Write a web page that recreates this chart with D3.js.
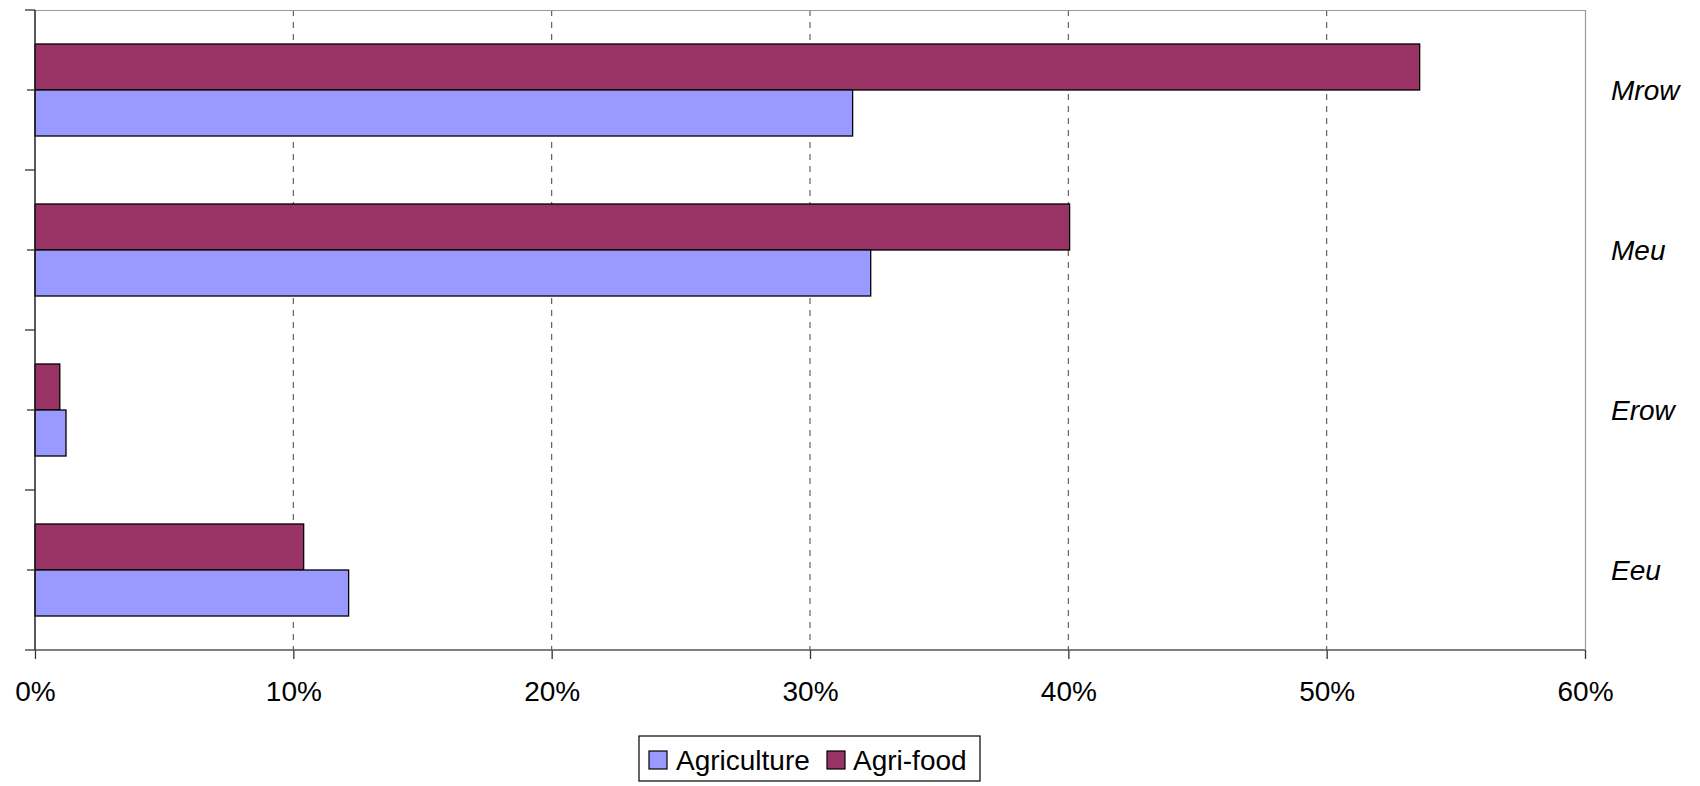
<!DOCTYPE html>
<html>
<head>
<meta charset="utf-8">
<script src="https://cdn.jsdelivr.net/npm/d3@7"></script>
<style>
  body { margin: 0; background: #fff; }
  svg { display: block; font-family: "Liberation Sans", Arial, sans-serif; }
</style>
</head>
<body>
<svg id="chart"></svg>
<script>
// data
const regions = ["Mrow", "Meu", "Erow", "Eeu"];
const series = ["Agri-food", "Agriculture"];
const agriculture = [31.65, 32.35, 1.2, 12.14];
const agrifood = [53.6, 40.05, 0.96, 10.4];
const xTicks = [0, 10, 20, 30, 40, 50, 60];
const colors = { "Agriculture": "#9999ff", "Agri-food": "#993366" };

//margins
const margin = { top: 10, right: 115, bottom: 136, left: 35 };
const width = 1700 - margin.left - margin.right;
const height = 786 - margin.top - margin.bottom;

const svg = d3.select("svg#chart")
  .attr("width", 1700)
  .attr("height", 786);

const g = svg.append("g")
  .attr("transform", "translate(" + margin.left + "," + margin.top + ")");

const rows = regions.map((r, i) => ({
  region: r,
  values: { "Agriculture": agriculture[i], "Agri-food": agrifood[i] }
}));

const x = d3.scaleLinear().domain([0, 60]).range([0, width]);
const y0 = d3.scaleBand().domain(regions).range([0, height]);
const y1 = d3.scaleBand().domain(series).range([0, y0.bandwidth()]).paddingOuter(0.739);

// dashed gridlines
g.selectAll("line.grid")
  .data(xTicks.filter(t => t > 0 && t < 60))
  .enter()
  .append("line")
  .attr("class", "grid")
  .attr("x1", d => x(d)).attr("x2", d => x(d))
  .attr("y1", 0).attr("y2", height)
  .style("stroke", "#555")
  .style("stroke-width", 1.1)
  .style("stroke-dasharray", "6,6");

// top and right frame
g.append("path")
  .attr("d", "M0,0.5H" + (width + 0.5) + "V" + height)
  .style("fill", "none")
  .style("stroke", "#9a9a9a")
  .style("stroke-width", 1.2);

// bars
const groups = g.selectAll("g.region")
  .data(rows)
  .enter()
  .append("g")
  .attr("class", "region")
  .attr("transform", d => "translate(0," + y0(d.region) + ")");

groups.selectAll("rect")
  .data(d => series.map(s => ({ key: s, value: d.values[s] })))
  .enter()
  .append("rect")
  .attr("x", 0)
  .attr("y", d => y1(d.key))
  .attr("width", d => x(d.value))
  .attr("height", y1.bandwidth())
  .style("fill", d => colors[d.key])
  .style("stroke", "#000")
  .style("stroke-width", 1.3);

// x axis
const xAxis = d3.axisBottom(x)
  .tickValues(xTicks)
  .tickFormat(d => d + "%")
  .tickSize(9)
  .tickPadding(22);

const ax = g.append("g")
  .attr("transform", "translate(0," + height + ")")
  .call(xAxis);
ax.select(".domain").remove();
ax.selectAll(".tick line").style("stroke", "#333").style("stroke-width", 1.3);
ax.selectAll(".tick text")
  .style("font-size", "28px")
  .style("fill", "#000")
  .attr("font-family", "Liberation Sans, Arial, sans-serif");

g.append("line")
  .attr("x1", -10).attr("x2", width)
  .attr("y1", height).attr("y2", height)
  .style("stroke", "#555")
  .style("stroke-width", 1.6);

// y axis: boundary ticks and centre ticks
g.append("line")
  .attr("x1", 0).attr("x2", 0)
  .attr("y1", 0).attr("y2", height)
  .style("stroke", "#222")
  .style("stroke-width", 1.5);

g.selectAll("line.ytick")
  .data(regions.map(r => y0(r)))
  .enter()
  .append("line")
  .attr("x1", -10).attr("x2", 0)
  .attr("y1", d => d).attr("y2", d => d)
  .style("stroke", "#333")
  .style("stroke-width", 1.3);

g.selectAll("line.ymid")
  .data(regions.map(r => y0(r) + y0.bandwidth() / 2))
  .enter()
  .append("line")
  .attr("x1", -8).attr("x2", 0)
  .attr("y1", d => d).attr("y2", d => d)
  .style("stroke", "#333")
  .style("stroke-width", 1.3);

// region labels on the right
g.selectAll("text.region")
  .data(regions)
  .enter()
  .append("text")
  .attr("x", width + 26)
  .attr("y", d => y0(d) + y0.bandwidth() / 2)
  .attr("dy", "0.35em")
  .style("font-size", "28px")
  .style("font-style", "italic")
  .text(d => d);

// legend
const legend = svg.append("g").attr("transform", "translate(639,736)");
legend.append("rect")
  .attr("width", 341).attr("height", 45)
  .style("fill", "#fff")
  .style("stroke", "#000")
  .style("stroke-width", 1.2);

const legendItems = [
  { key: "Agriculture", x: 10, tx: 37 },
  { key: "Agri-food", x: 188, tx: 214 }
];
legend.selectAll("rect.sw")
  .data(legendItems)
  .enter()
  .append("rect")
  .attr("class", "sw")
  .attr("x", d => d.x).attr("y", 15)
  .attr("width", 18).attr("height", 18)
  .style("fill", d => colors[d.key])
  .style("stroke", "#000")
  .style("stroke-width", 1.2);
legend.selectAll("text")
  .data(legendItems)
  .enter()
  .append("text")
  .attr("x", d => d.tx).attr("y", 24)
  .attr("dy", "0.35em")
  .style("font-size", "28px")
  .text(d => d.key);
</script>
</body>
</html>
